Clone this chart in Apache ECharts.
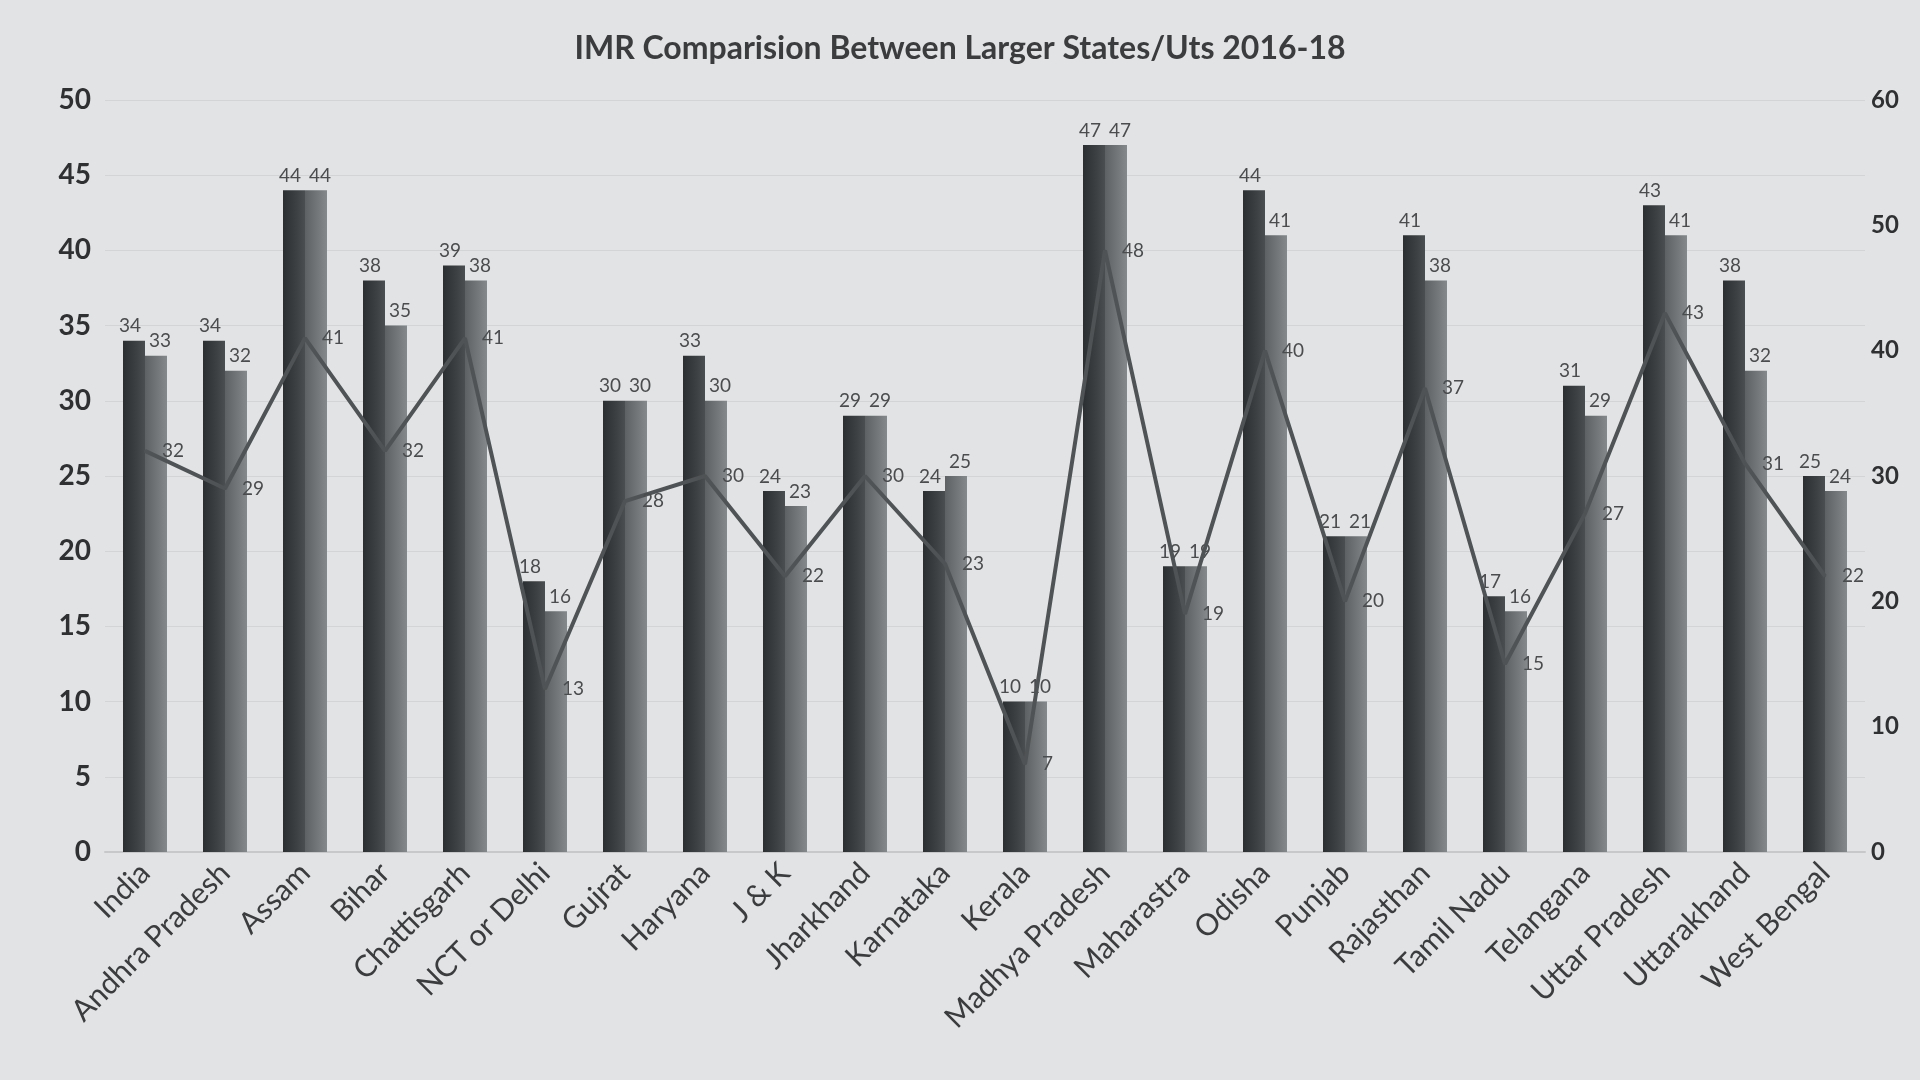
<!DOCTYPE html>
<html>
<head>
<meta charset="utf-8">
<script src="https://cdn.jsdelivr.net/npm/echarts@6/dist/echarts.min.js"></script>
<style>html,body{margin:0;padding:0;background:#e1e3e4;}#chart{width:1920px;height:1080px;}</style>
</head>
<body>
<div id="chart"></div>
<script>
const categories = ['India','Andhra Pradesh','Assam','Bihar','Chattisgarh','NCT or Delhi','Gujrat','Haryana','J & K','Jharkhand','Karnataka','Kerala','Madhya Pradesh','Maharastra','Odisha','Punjab','Rajasthan','Tamil Nadu','Telangana','Uttar Pradesh','Uttarakhand','West Bengal'];
const seriesA = [34,34,44,38,39,18,30,33,24,29,24,10,47,19,44,21,41,17,31,43,38,25];
const seriesB = [33,32,44,35,38,16,30,30,23,29,25,10,47,19,41,21,38,16,29,41,32,24];
const lineValues = [32,29,41,32,41,13,28,30,22,30,23,7,48,19,40,20,37,15,27,43,31,22];
const leftTicks = {min:0, max:50, interval:5};
const rightTicks = {min:0, max:60, interval:10};

const chart = echarts.init(document.getElementById('chart'));
const labelFont = {fontFamily:'Lato', fontSize:19, color:'#4a4c4e'};
chart.setOption({
  backgroundColor:'#e1e3e4',
  animation:false,
  title:{
    text:'IMR Comparision Between Larger States/Uts 2016-18',
    left:'center', top:28,
    textStyle:{fontFamily:'Lato', fontSize:32, fontWeight:'bold', color:'#3a3c3e'}
  },
  grid:{left:105, right:55, top:100, bottom:228},
  xAxis:{
    type:'category', data:categories,
    axisTick:{show:false},
    axisLine:{lineStyle:{color:'#c6c8ca', width:2}},
    axisLabel:{rotate:45, interval:0, fontFamily:'Lato', fontSize:30, color:'#3a3c3e', margin:16}
  },
  yAxis:[
    {type:'value', min:leftTicks.min, max:leftTicks.max, interval:leftTicks.interval,
     axisLine:{show:false}, axisTick:{show:false},
     splitLine:{lineStyle:{color:'#d2d4d6', width:1}},
     axisLabel:{fontFamily:'Lato', fontSize:28, fontWeight:'bold', color:'#2e3032', margin:14}},
    {type:'value', min:rightTicks.min, max:rightTicks.max, interval:rightTicks.interval,
     axisLine:{show:false}, axisTick:{show:false}, splitLine:{show:false},
     axisLabel:{fontFamily:'Lato', fontSize:24, fontWeight:'bold', color:'#2e3032', margin:6}}
  ],
  series:[
    {type:'bar', data:seriesA, barWidth:22, barGap:'0%',
     itemStyle:{color:new echarts.graphic.LinearGradient(0,0,1,0,[{offset:0,color:'#2c2f31'},{offset:0.6,color:'#3d4042'},{offset:1,color:'#4b4e50'}])},
     label:{show:true, position:'top', distance:5, offset:[-4,0], ...labelFont}},
    {type:'bar', data:seriesB, barWidth:22,
     itemStyle:{color:new echarts.graphic.LinearGradient(0,0,1,0,[{offset:0,color:'#5d6163'},{offset:0.6,color:'#74787a'},{offset:1,color:'#85898b'}])},
     label:{show:true, position:'top', distance:5, offset:[4,0], ...labelFont}},
    {type:'line', yAxisIndex:1, data:lineValues, symbol:'circle', symbolSize:2, showSymbol:true, z:5,
     itemStyle:{color:'#505355'},
     lineStyle:{color:'#505355', width:4},
     label:{show:true, position:'right', distance:16, ...labelFont}}
  ]
});
</script>
</body>
</html>
